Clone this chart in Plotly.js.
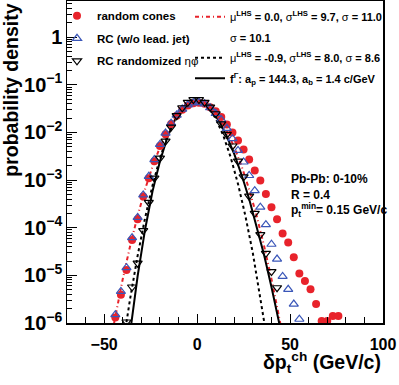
<!DOCTYPE html>
<html lang="en">
<head>
<meta charset="UTF-8">
<title>delta pt distribution</title>
<script src="https://cdn.plot.ly/plotly-3.0.1.min.js"></script>
<style>
    body { margin: 0; padding: 0; background: #fff; }
    #chart { width: 399px; height: 385px; }
</style>
</head>
<body>
<div id="chart"></div>
<script>
// random cones
const rcX = [-44,-41,-38,-35,-32,-29,-26,-23,-20,-17,-14,-11,-8,-5,-2,1,4,7,10,13,16,19,22,25,28,31,34,37,40,43,46,49,52,55,58,61,64,67,70,73,76];
const rcY = [1.3e-6,3.9e-6,1.3e-5,5.5e-5,1.5e-4,4.5e-4,1.1e-3,2.5e-3,5.2e-3,9.2e-3,0.0150,0.0225,0.030,0.037,0.041,0.042,0.040,0.034,0.028,0.021,0.0147,0.0100,0.0068,0.0044,0.0027,0.0016,9.8e-4,5.1e-4,2.7e-4,1.5e-4,7.6e-5,4.9e-5,2.4e-5,1.1e-5,7.6e-6,5.1e-6,2.5e-6,1.1e-6,1.1e-6,1.4e-6,1.4e-6];

// RC without leading jet
const noLeadX = [-44,-41,-38,-35,-32,-29,-26,-23,-20,-17,-14,-11,-8,-5,-2,1,4,7,10,13,16,19,22,25,28,31,34,37,40,43,46,49,52,55];
const noLeadY = [1.5e-6,4.6e-6,1.45e-5,6.2e-5,1.65e-4,4.9e-4,1.2e-3,2.7e-3,5.6e-3,0.0097,0.0157,0.0232,0.031,0.038,0.042,0.043,0.040,0.033,0.025,0.0185,0.0122,0.0074,0.0042,0.0024,0.00125,6.0e-4,2.7e-4,1.16e-4,4.5e-5,2.2e-5,9.5e-6,5.1e-6,2.5e-6,1.2e-6];

// RC randomized eta-phi
const randX = [-38,-35,-32,-29,-26,-23,-20,-17,-14,-11,-8,-5,-2,1,4,7,10,13,16,19,22,25,28,31,34,37,40,43];
const randY = [1.05e-6,5.7e-6,1.8e-5,8.7e-5,3.4e-4,1.1e-3,2.9e-3,6.6e-3,0.0130,0.0225,0.033,0.043,0.049,0.049,0.043,0.034,0.0247,0.0152,0.0091,0.0052,0.0025,0.00117,4.6e-4,2.0e-4,7.2e-5,2.9e-5,1.2e-5,5.5e-6];

// gaussian (LHS) fit to random cones
const gausRcX = [-46,-44,-40,-36,-32,-28,-24,-20,-16,-12,-8,-4,0,4,8,12,16,20,24,28,32,36,40,44,46];
const gausRcY = [5.4e-7,1.4e-6,8.4e-6,4.2e-5,1.78e-4,6.4e-4,1.93e-3,4.9e-3,0.0106,0.0191,0.0293,0.0377,0.0411,0.0377,0.0293,0.0191,0.0106,4.9e-3,1.93e-3,6.4e-4,1.78e-4,4.2e-5,8.4e-6,1.4e-6,5.4e-7];

// gaussian (LHS) fit to randomized cones
const gausRandX = [-40,-38,-36,-32,-28,-24,-20,-16,-12,-8,-4,-1,2,6,10,14,18,22,26,30,34,36,38];
const gausRandY = [3.3e-7,1.07e-6,3.3e-6,2.6e-5,1.6e-4,7.7e-4,2.9e-3,8.4e-3,0.0191,0.0336,0.0463,0.0499,0.0467,0.0344,0.0197,8.8e-3,3.06e-3,8.3e-4,1.75e-4,2.9e-5,3.7e-6,1.2e-6,3.7e-7];

// gamma function f^Gamma
const gammaX = [-36,-34,-32,-28,-24,-20,-16,-12,-8,-4,0,4,8,12,16,20,24,28,32,36,40,44,46];
const gammaY = [6.5e-7,2.7e-6,9.7e-6,9.2e-5,5.8e-4,2.5e-3,7.9e-3,0.0182,0.0318,0.0432,0.0464,0.0402,0.0285,0.0168,8.3e-3,3.5e-3,1.26e-3,4.0e-4,1.09e-4,2.7e-5,5.7e-6,1.1e-6,4.6e-7];

const FONT = 'Liberation Sans, Arial, sans-serif';
const RED = '#e8232b';
const BLUE = '#3a56b8';

const traces = [
    {
        x: gausRcX, y: gausRcY, type: 'scatter', mode: 'lines',
        line: { color: RED, width: 2, dash: '4px,3px,1px,3px' },
        name: '<span style="font-weight:normal">μ</span><sup>LHS</sup> = 0.0, <span style="font-weight:normal">σ</span><sup>LHS</sup> = 9.7, <span style="font-weight:normal">σ</span> = 11.0',
        legend: 'legend2', legendgroup: 'a'
    },
    {
        x: [null], y: [null], type: 'scatter', mode: 'lines',
        line: { color: 'rgba(0,0,0,0)', width: 0 },
        name: '<span style="font-weight:normal">σ</span> = 10.1',
        legend: 'legend2', legendgroup: 'b'
    },
    {
        x: gausRandX, y: gausRandY, type: 'scatter', mode: 'lines',
        line: { color: '#000', width: 2, dash: 'dot' },
        name: '<span style="font-weight:normal">μ</span><sup>LHS</sup> = -0.9, <span style="font-weight:normal">σ</span><sup>LHS</sup> = 8.0, <span style="font-weight:normal">σ</span> = 8.6',
        legend: 'legend2', legendgroup: 'c'
    },
    {
        x: gammaX, y: gammaY, type: 'scatter', mode: 'lines',
        line: { color: '#000', width: 2 },
        name: 'f<sup>Γ</sup>: a<sub>p</sub> = 144.3, a<sub>b</sub> = 1.4 c/GeV',
        legend: 'legend2', legendgroup: 'd'
    },
    {
        x: rcX, y: rcY, type: 'scatter', mode: 'markers',
        marker: { symbol: 'circle', size: 8, color: RED },
        name: 'random cones', legendgroup: 'e'
    },
    {
        x: noLeadX, y: noLeadY, type: 'scatter', mode: 'markers',
        marker: { symbol: 'triangle-up-open', size: 8, color: BLUE, line: { width: 1.2 } },
        name: 'RC (w/o lead. jet)', legendgroup: 'f'
    },
    {
        x: randX, y: randY, type: 'scatter', mode: 'markers',
        marker: { symbol: 'triangle-down-open', size: 8, color: '#000', line: { width: 1.2 } },
        name: 'RC randomized <span style="font-weight:normal">ηφ</span>', legendgroup: 'g'
    }
];

const tickFont = { family: FONT, size: 16, color: '#000', weight: 'bold' };

const layout = {
    width: 399, height: 385,
    margin: { l: 67, r: 16, t: 1, b: 62 },
    paper_bgcolor: '#fff', plot_bgcolor: '#fff',
    font: { family: FONT, color: '#000' },
    showlegend: true,
    xaxis: {
        range: [-70, 100], dtick: 50, tick0: 0,
        showgrid: false, zeroline: false,
        showline: true, linecolor: '#000', linewidth: 1.5, mirror: true,
        ticks: 'inside', ticklen: 9, tickwidth: 1, tickcolor: '#000',
        minor: { dtick: 10, ticks: 'inside', ticklen: 6, tickcolor: '#000', showgrid: false },
        tickfont: tickFont, ticklabelstandoff: 6
    },
    yaxis: {
        type: 'log', range: [-6, 0.76], dtick: 1,
        exponentformat: 'power',
        showgrid: false, zeroline: false,
        showline: true, linecolor: '#000', linewidth: 1.5, mirror: true,
        ticks: 'inside', ticklen: 10, tickwidth: 1, tickcolor: '#000',
        minor: { dtick: 'D1', ticks: 'inside', ticklen: 5, tickcolor: '#000', showgrid: false },
        tickfont: tickFont
    },
    legend: {
        x: (57 - 67) / 316, xanchor: 'left', y: 0.999, yanchor: 'top',
        bgcolor: 'rgba(0,0,0,0)', borderwidth: 0,
        font: { family: FONT, size: 11.5, color: '#000', weight: 'bold' },
        tracegroupgap: 3.5, itemwidth: 30
    },
    legend2: {
        x: (190 - 67) / 316, xanchor: 'left', y: 0.996, yanchor: 'top',
        bgcolor: 'rgba(0,0,0,0)', borderwidth: 0,
        font: { family: FONT, size: 11, color: '#000', weight: 'bold' },
        tracegroupgap: 1.5, itemwidth: 30
    },
    annotations: [
        {
            text: '<b>probability density</b>', textangle: -90,
            xref: 'paper', yref: 'paper', x: -0.178, y: 1.0, xanchor: 'center', yanchor: 'top',
            showarrow: false, font: { family: FONT, size: 19.5, color: '#000' }
        },
        {
            text: '<b>δp<sub>t</sub><sup>ch</sup> (GeV/c)</b>',
            xref: 'paper', yref: 'paper', x: 1.0, y: -0.124, xanchor: 'right', yanchor: 'middle',
            showarrow: false, font: { family: FONT, size: 19.5, color: '#000' }
        },
        {
            text: '<b>Pb-Pb: 0-10%<br>R = 0.4<br>p<sub>t</sub><sup>min</sup>= 0.15 GeV/c</b>',
            xref: 'paper', yref: 'paper', x: 0.703, y: 0.475, xanchor: 'left', yanchor: 'top',
            align: 'left', showarrow: false, font: { family: FONT, size: 12, color: '#000' }
        }
    ]
};

Plotly.newPlot('chart', traces, layout, { displayModeBar: false, staticPlot: true });
</script>
</body>
</html>
